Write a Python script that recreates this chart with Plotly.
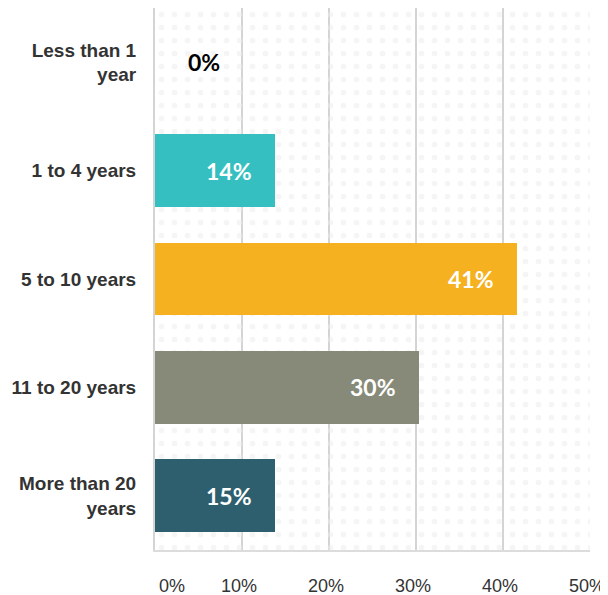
import plotly.graph_objects as go

categories = ["Less than 1<br>year", "1 to 4 years", "5 to 10 years",
              "11 to 20 years", "More than 20<br>years"]
values = [0, 13.8, 41.6, 30.4, 13.8]
labels = ["0%", "14%", "41%", "30%", "15%"]
colors = ["#35bfc1", "#35bfc1", "#f5b120", "#878a78", "#2e5f6e"]
tick_vals = [0, 10, 20, 30, 40, 50]
tick_text = ["        0%", "10%", "20%", "30%", "40%", "50%"]

fig = go.Figure()

# dotted background
fig.add_trace(go.Bar(
    y=categories, x=[50] * len(categories), orientation="h", width=1,
    marker=dict(color="rgba(0,0,0,0)", line_width=0,
                pattern=dict(shape=".", fgcolor="#ececec", bgcolor="rgba(0,0,0,0)",
                             size=13, solidity=0.15)),
    hoverinfo="skip", showlegend=False,
))

fig.add_trace(go.Bar(
    y=categories, x=values, orientation="h", width=0.67,
    marker=dict(color=colors, line_width=0),
    showlegend=False,
))

for cat, v, lab in zip(categories, values, labels):
    if v > 0:
        fig.add_annotation(x=v, y=cat, text="<b>" + lab + "</b>", showarrow=False,
                           xanchor="right", xshift=-21,
                           font=dict(family="Lato, Arial", size=23, color="white"))
    else:
        fig.add_annotation(x=v, y=cat, text="<b>" + lab + "</b>", showarrow=False,
                           xanchor="left", xshift=31,
                           font=dict(family="Lato, Arial", size=23, color="black"))

# page body has an 8px margin, so the figure is sized to fit the window
fig.update_layout(
    width=600, height=587,
    margin=dict(l=147, r=18, t=0, b=45),
    paper_bgcolor="white", plot_bgcolor="white",
    barmode="overlay", bargap=0,
    font=dict(family="Liberation Sans, Arial", size=18, color="#333333"),
)
fig.update_xaxes(
    range=[0, 50], tickvals=tick_vals, ticktext=tick_text,
    showgrid=True, gridcolor="#d4d4d4", gridwidth=2,
    zeroline=False, showline=True, linecolor="#dcdcdc", linewidth=2,
    ticklabelstandoff=18, ticklabelshift=-3, automargin=False,
    ticklabeloverflow="allow",
    tickfont=dict(size=18, color="#333333"),
)
fig.update_yaxes(
    autorange="reversed", showgrid=False, zeroline=False,
    showline=True, linecolor="#d4d4d4", linewidth=2,
    ticklabelstandoff=13, automargin=False,
    tickfont=dict(family="Liberation Sans, Arial", size=19, color="#333333", weight="bold"),
)

fig.write_html("out.html")
